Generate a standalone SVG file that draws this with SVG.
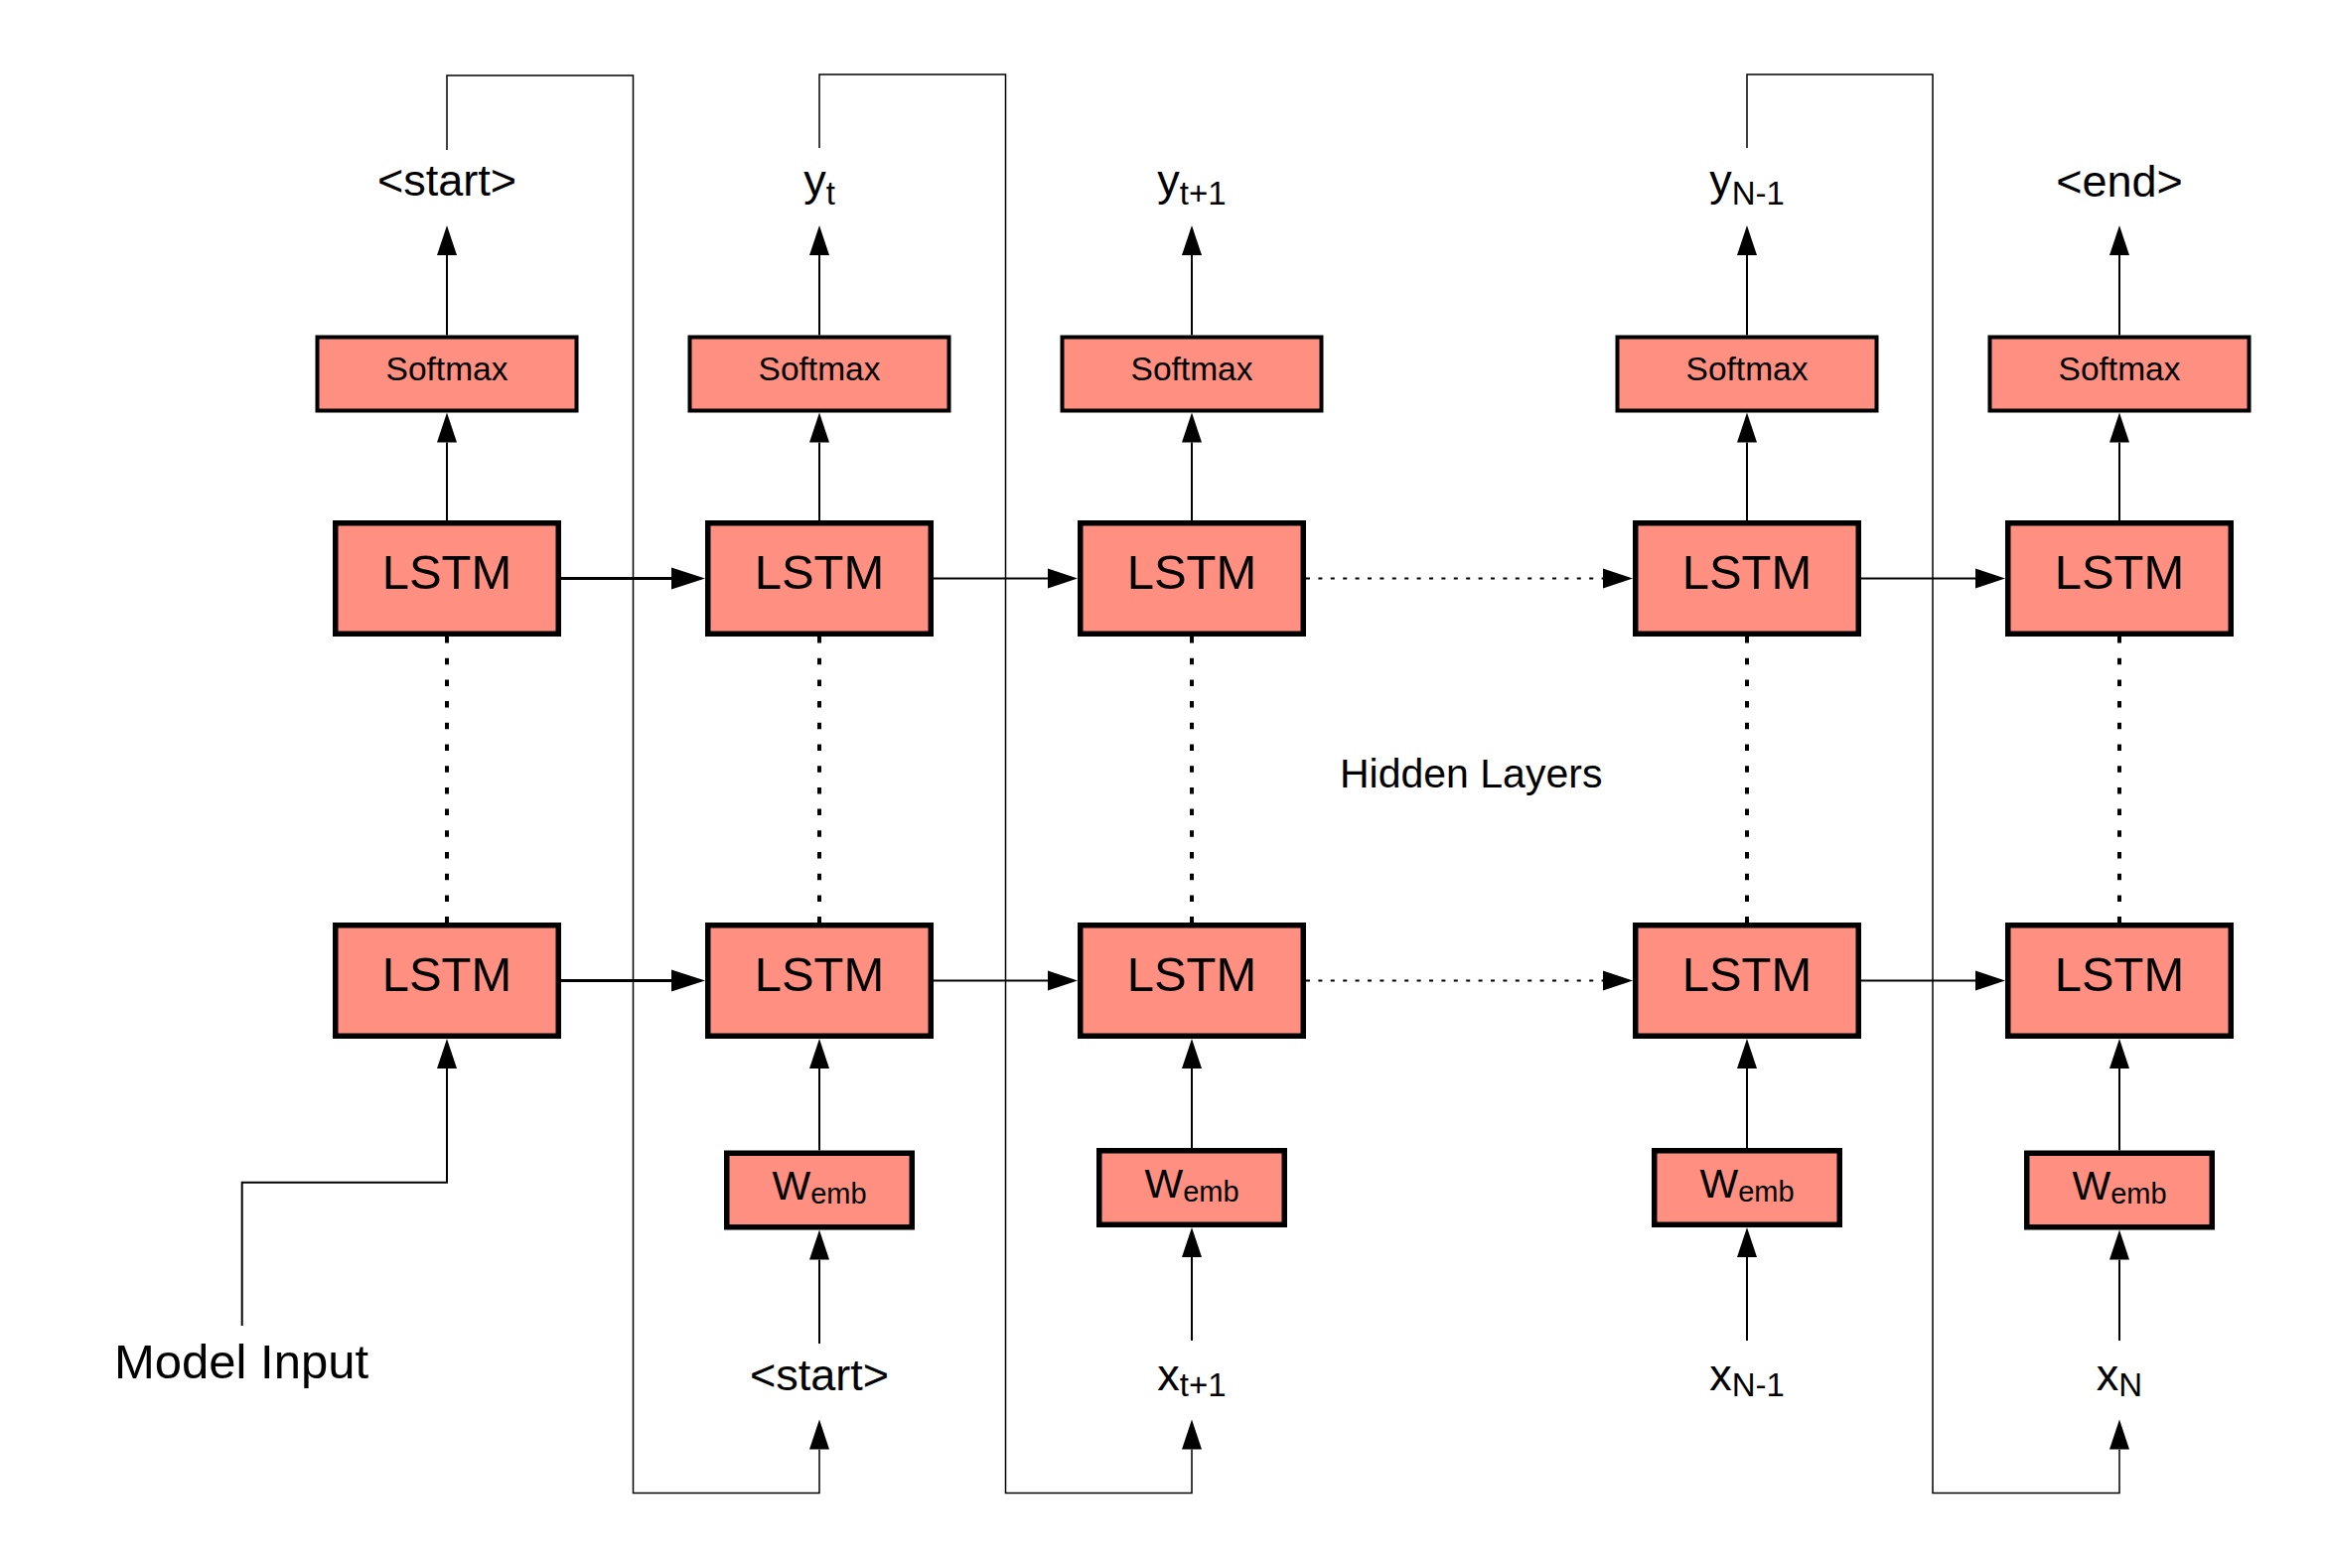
<svg xmlns="http://www.w3.org/2000/svg" width="2342" height="1579" viewBox="0 0 2342 1579">
<style>
.box{fill:#FF8F80;stroke:#000}
.lstm{stroke-width:5.5}
.sm{stroke-width:4}
.we{stroke-width:5.5}
text{font-family:"Liberation Sans",Arial,Helvetica,sans-serif;fill:#000;text-anchor:middle}
.t48{font-size:49px}
.t33{font-size:33.5px}
.lbl{font-size:45px}
.sub{font-size:33px}
.wm{font-size:41px}
.ws{font-size:29px}
.c{fill:none;stroke:#000;stroke-width:2}
.thick{stroke-width:3}
.loop{fill:none;stroke:#000;stroke-width:1.5}
.dotv{fill:none;stroke:#000;stroke-width:4;stroke-dasharray:6.5 15.2}
.doth{fill:none;stroke:#000;stroke-width:2;stroke-dasharray:4 8.4}
</style>
<defs>
<marker id="a" markerUnits="userSpaceOnUse" markerWidth="30" markerHeight="20" refX="0" refY="10" orient="auto" overflow="visible"><path d="M0,0 L30,10 L0,20 z" fill="#000"/></marker>
<marker id="b" markerUnits="userSpaceOnUse" markerWidth="34" markerHeight="22" refX="0" refY="11" orient="auto" overflow="visible"><path d="M0,0 L34,11 L0,22 z" fill="#000"/></marker>
</defs>

<g id="connectors">
<path class="loop" d="M450,151 V76 H637.5 V1503.5 H825 V1459.5" marker-end="url(#a)"/>
<path class="loop" d="M825,149 V75 H1012.5 V1503.5 H1200 V1459.5" marker-end="url(#a)"/>
<path class="loop" d="M1759,149 V75 H1946 V1503.5 H2134 V1459.5" marker-end="url(#a)"/>
<path class="c" d="M243.7,1335 V1190.7 H450 V1076" marker-end="url(#a)"/>
<path class="c" d="M450,524 V445.5" marker-end="url(#a)"/>
<path class="c" d="M825,524 V445.5" marker-end="url(#a)"/>
<path class="c" d="M1200,524 V445.5" marker-end="url(#a)"/>
<path class="c" d="M1759,524 V445.5" marker-end="url(#a)"/>
<path class="c" d="M2134,524 V445.5" marker-end="url(#a)"/>
<path class="c" d="M450,337.5 V257" marker-end="url(#a)"/>
<path class="c" d="M825,337.5 V257" marker-end="url(#a)"/>
<path class="c" d="M1200,337.5 V257" marker-end="url(#a)"/>
<path class="c" d="M1759,337.5 V257" marker-end="url(#a)"/>
<path class="c" d="M2134,337.5 V257" marker-end="url(#a)"/>
<path class="dotv" d="M450,641 V929"/>
<path class="dotv" d="M825,641 V929"/>
<path class="dotv" d="M1200,641 V929"/>
<path class="dotv" d="M1759,641 V929"/>
<path class="dotv" d="M2134,641 V929"/>
<path class="c thick" d="M565,582.5 H676" marker-end="url(#b)"/>
<path class="c thick" d="M565,987.5 H676" marker-end="url(#b)"/>
<path class="c" d="M940,582.5 H1055" marker-end="url(#a)"/>
<path class="c" d="M940,987.5 H1055" marker-end="url(#a)"/>
<path class="doth" d="M1315,582.5 H1614" marker-end="url(#a)"/>
<path class="doth" d="M1315,987.5 H1614" marker-end="url(#a)"/>
<path class="c" d="M1874,582.5 H1989" marker-end="url(#a)"/>
<path class="c" d="M1874,987.5 H1989" marker-end="url(#a)"/>
<path class="c" d="M825,1158.5 V1076" marker-end="url(#a)"/>
<path class="c" d="M1200,1156 V1076" marker-end="url(#a)"/>
<path class="c" d="M1759,1156 V1076" marker-end="url(#a)"/>
<path class="c" d="M2134,1158.5 V1076" marker-end="url(#a)"/>
<path class="c" d="M825,1353 V1268.5" marker-end="url(#a)"/>
<path class="c" d="M1200,1350 V1266" marker-end="url(#a)"/>
<path class="c" d="M1759,1350 V1266" marker-end="url(#a)"/>
<path class="c" d="M2134,1350 V1268.5" marker-end="url(#a)"/>
</g>

<g id="softmax1"><rect class="box sm" x="319.5" y="339.5" width="261" height="74"/><text class="t33" x="450" y="383">Softmax</text></g>
<g id="softmax2"><rect class="box sm" x="694.5" y="339.5" width="261" height="74"/><text class="t33" x="825" y="383">Softmax</text></g>
<g id="softmax3"><rect class="box sm" x="1069.5" y="339.5" width="261" height="74"/><text class="t33" x="1200" y="383">Softmax</text></g>
<g id="softmax4"><rect class="box sm" x="1628.5" y="339.5" width="261" height="74"/><text class="t33" x="1759" y="383">Softmax</text></g>
<g id="softmax5"><rect class="box sm" x="2003.5" y="339.5" width="261" height="74"/><text class="t33" x="2134" y="383">Softmax</text></g>

<g id="lstm-top1"><rect class="box lstm" x="337.75" y="526.75" width="224.5" height="111.5"/><text class="t48" x="450" y="593">LSTM</text></g>
<g id="lstm-top2"><rect class="box lstm" x="712.75" y="526.75" width="224.5" height="111.5"/><text class="t48" x="825" y="593">LSTM</text></g>
<g id="lstm-top3"><rect class="box lstm" x="1087.75" y="526.75" width="224.5" height="111.5"/><text class="t48" x="1200" y="593">LSTM</text></g>
<g id="lstm-top4"><rect class="box lstm" x="1646.75" y="526.75" width="224.5" height="111.5"/><text class="t48" x="1759" y="593">LSTM</text></g>
<g id="lstm-top5"><rect class="box lstm" x="2021.75" y="526.75" width="224.5" height="111.5"/><text class="t48" x="2134" y="593">LSTM</text></g>

<g id="lstm-bot1"><rect class="box lstm" x="337.75" y="931.75" width="224.5" height="111.5"/><text class="t48" x="450" y="997.5">LSTM</text></g>
<g id="lstm-bot2"><rect class="box lstm" x="712.75" y="931.75" width="224.5" height="111.5"/><text class="t48" x="825" y="997.5">LSTM</text></g>
<g id="lstm-bot3"><rect class="box lstm" x="1087.75" y="931.75" width="224.5" height="111.5"/><text class="t48" x="1200" y="997.5">LSTM</text></g>
<g id="lstm-bot4"><rect class="box lstm" x="1646.75" y="931.75" width="224.5" height="111.5"/><text class="t48" x="1759" y="997.5">LSTM</text></g>
<g id="lstm-bot5"><rect class="box lstm" x="2021.75" y="931.75" width="224.5" height="111.5"/><text class="t48" x="2134" y="997.5">LSTM</text></g>

<g id="wemb2"><rect class="box we" x="731.75" y="1161.25" width="186.5" height="74.5"/><text class="wm" x="825" y="1208">W<tspan class="ws" dy="4">emb</tspan></text></g>
<g id="wemb3"><rect class="box we" x="1106.75" y="1158.75" width="186.5" height="74.5"/><text class="wm" x="1200" y="1205.5">W<tspan class="ws" dy="4">emb</tspan></text></g>
<g id="wemb4"><rect class="box we" x="1665.75" y="1158.75" width="186.5" height="74.5"/><text class="wm" x="1759" y="1205.5">W<tspan class="ws" dy="4">emb</tspan></text></g>
<g id="wemb5"><rect class="box we" x="2040.75" y="1161.25" width="186.5" height="74.5"/><text class="wm" x="2134" y="1208">W<tspan class="ws" dy="4">emb</tspan></text></g>

<g id="out1"><text class="lbl" x="450" y="197">&lt;start&gt;</text></g>
<g id="out2"><text class="lbl" x="825" y="197">y<tspan class="sub" dy="9">t</tspan></text></g>
<g id="out3"><text class="lbl" x="1200" y="197">y<tspan class="sub" dy="9">t+1</tspan></text></g>
<g id="out4"><text class="lbl" x="1759" y="197">y<tspan class="sub" dy="9">N-1</tspan></text></g>
<g id="out5"><text class="lbl" x="2134" y="198">&lt;end&gt;</text></g>

<g id="in2"><text class="lbl" x="825" y="1400">&lt;start&gt;</text></g>
<g id="in3"><text class="lbl" x="1200" y="1400">x<tspan class="sub" dy="6">t+1</tspan></text></g>
<g id="in4"><text class="lbl" x="1759" y="1400">x<tspan class="sub" dy="6">N-1</tspan></text></g>
<g id="in5"><text class="lbl" x="2134" y="1400">x<tspan class="sub" dy="6">N</tspan></text></g>

<g id="model-input"><text x="115" y="1388" style="font-size:49px;text-anchor:start">Model Input</text></g>
<g id="hidden-layers"><text x="1349" y="793" style="font-size:41px;text-anchor:start">Hidden Layers</text></g>
</svg>
